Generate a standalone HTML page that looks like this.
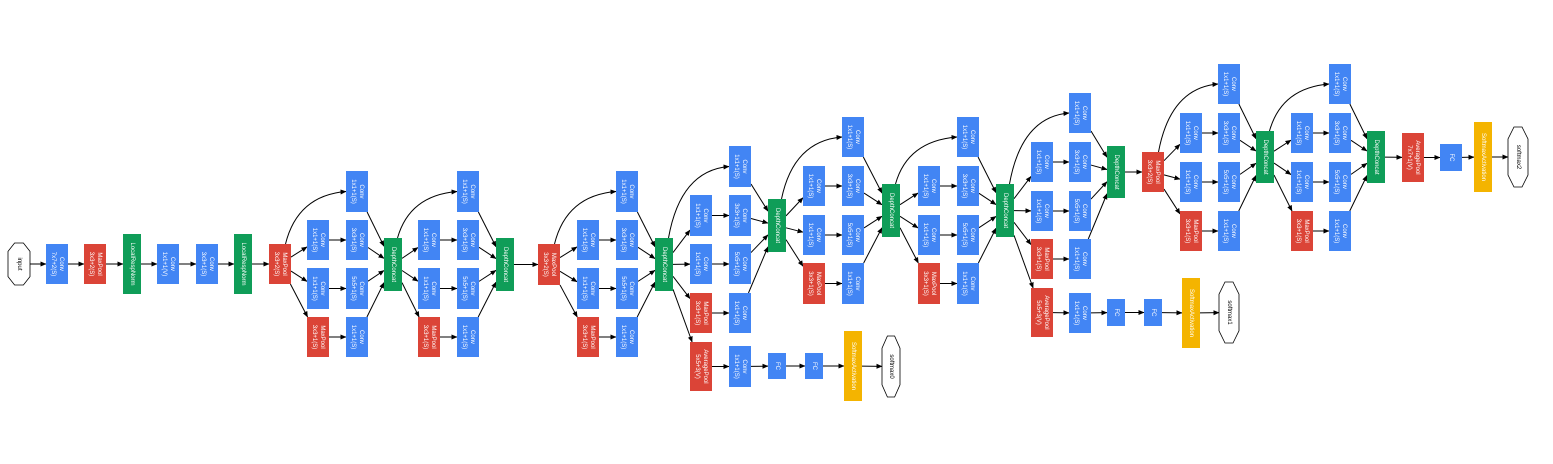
<!DOCTYPE html>
<html><head><meta charset="utf-8"><style>
html,body{margin:0;padding:0;background:#fff;}
svg{display:block;}
</style></head><body>
<svg id="g" width="1553" height="464" viewBox="0 0 1553 464" xmlns="http://www.w3.org/2000/svg">
<defs><marker id="ah" markerWidth="6" markerHeight="6" refX="5.5" refY="3" orient="auto" markerUnits="userSpaceOnUse"><path d="M0,0.5 L6,3 L0,5.5 z" fill="#000"/></marker></defs>
<g id="edges"></g><g id="nodes"></g>
</svg>
<script>
const COL={conv:'#4285f4',pool:'#db4437',cat:'#0f9d58',soft:'#f4b400'};
const nodes={};const edges=[];
function N(id,x0,x1,y0,y1,type,l1,l2){nodes[id]={id,x0,x1,y0,y1,type,l1,l2};}
function E(a,b,curve){edges.push([a,b,curve]);}
// stem
N('input',8,30,243,285,'hex','input');
N('conv1',46,68,244,284,'conv','Conv','7x7+2(S)');
N('mp1',84,106,244,284,'pool','MaxPool','3x3+2(S)');
N('lrn1',123,141,234,294,'cat','LocalRespNorm');
N('conv2',157,179,244,284,'conv','Conv','1x1+1(V)');
N('conv3',196,218,244,284,'conv','Conv','3x3+1(S)');
N('lrn2',234,252,234,294,'cat','LocalRespNorm');
N('mp2',269,291,244,284,'pool','MaxPool','3x3+2(S)');
['input','conv1','mp1','lrn1','conv2','conv3','lrn2','mp2'].reduce((a,b)=>{E(a,b);return b;});
function inc(p,src,c1,c2,rows,dc){
  const w=22;
  N(p+'r1',c2,c2+w,rows[0][0],rows[0][1],'conv','Conv','1x1+1(S)');
  N(p+'a2',c1,c1+w,rows[1][0],rows[1][1],'conv','Conv','1x1+1(S)');
  N(p+'b2',c2,c2+w,rows[1][0],rows[1][1],'conv','Conv','3x3+1(S)');
  N(p+'a3',c1,c1+w,rows[2][0],rows[2][1],'conv','Conv','1x1+1(S)');
  N(p+'b3',c2,c2+w,rows[2][0],rows[2][1],'conv','Conv','5x5+1(S)');
  N(p+'a4',c1,c1+w,rows[3][0],rows[3][1],'pool','MaxPool','3x3+1(S)');
  N(p+'b4',c2,c2+w,rows[3][0],rows[3][1],'conv','Conv','1x1+1(S)');
  N(p+'dc',dc[0],dc[0]+18,dc[1],dc[2],'cat','DepthConcat');
  E(src,p+'r1',true);E(src,p+'a2');E(src,p+'a3');E(src,p+'a4');
  E(p+'a2',p+'b2');E(p+'a3',p+'b3');E(p+'a4',p+'b4');
  ['r1','b2','b3','b4'].forEach(k=>E(p+k,p+'dc'));
  return p+'dc';
}
const R3=[[171,212],[220,260],[268,309],[317,357]];
let d=inc('i3a','mp2',307,346,R3,[384,238,291]);
d=inc('i3b',d,418,457,R3,[496,238,291]);
N('mp3',538,560,244,285,'pool','MaxPool','3x3+2(S)');E(d,'mp3');
const d4a=inc('i4a','mp3',577,616,R3,[655,238,291]);
const R4b=[[146,187],[195,236],[244,284],[293,333]];
const d4b=inc('i4b',d4a,690,729,R4b,[768,199,252]);
N('aux0pool',690,712,342,391,'pool','AveragePool','5x5+3(V)');
N('aux0conv',729,751,346,387,'conv','Conv','1x1+1(S)');
N('aux0fc1',768,786,353,379,'conv','FC');
N('aux0fc2',805,823,353,379,'conv','FC');
N('aux0sm',844,862,331,401,'soft','SoftmaxActivation');
N('softmax0',882,900,336,397,'hex','softmax0');
E(d4a,'aux0pool');['aux0pool','aux0conv','aux0fc1','aux0fc2','aux0sm','softmax0'].reduce((a,b)=>{E(a,b);return b;});
const R4c=[[117,157],[166,206],[215,255],[263,304]];
let d4c=inc('i4c',d4b,803,842,R4c,[882,184,237]);
let d4d=inc('i4d',d4c,918,957,R4c,[996,184,237]);
const R4e=[[93,133],[142,182],[191,231],[239,279]];
const d4e=inc('i4e',d4d,1031,1069,R4e,[1107,146,198]);
N('aux1pool',1031,1053,288,337,'pool','AveragePool','5x5+3(V)');
N('aux1conv',1069,1091,293,333,'conv','Conv','1x1+1(S)');
N('aux1fc1',1107,1125,299,326,'conv','FC');
N('aux1fc2',1144,1162,299,326,'conv','FC');
N('aux1sm',1182,1200,278,348,'soft','SoftmaxActivation');
N('softmax1',1219,1239,282,343,'hex','softmax1');
E(d4d,'aux1pool');['aux1pool','aux1conv','aux1fc1','aux1fc2','aux1sm','softmax1'].reduce((a,b)=>{E(a,b);return b;});
N('mp4',1142,1164,152,192,'pool','MaxPool','3x3+2(S)');E(d4e,'mp4');
const R5=[[64,104],[113,153],[162,202],[211,251]];
let d5a=inc('i5a','mp4',1180,1218,R5,[1256,131,183]);
let d5b=inc('i5b',d5a,1291,1329,R5,[1367,131,183]);
N('avg',1402,1424,133,182,'pool','AveragePool','7x7+1(V)');
N('fc',1440,1462,144,171,'conv','FC');
N('sm2',1474,1492,122,192,'soft','SoftmaxActivation');
N('softmax2',1508,1528,127,187,'hex','softmax2');
[d5b,'avg','fc','sm2','softmax2'].reduce((a,b)=>{E(a,b);return b;});

const NS='http://www.w3.org/2000/svg';
const gN=document.getElementById('nodes'),gE=document.getElementById('edges');
function clip(n,px,py,qx,qy){ // point where segment from center(p) toward q exits rect n
  const cx=px,cy=py,dx=qx-px,dy=qy-py;const hw=(n.x1-n.x0)/2,hh=(n.y1-n.y0)/2;
  let t=Infinity;if(dx)t=Math.min(t,hw/Math.abs(dx));if(dy)t=Math.min(t,hh/Math.abs(dy));
  return [cx+dx*t,cy+dy*t];
}
edges.forEach(([a,b,curve])=>{
  const A=nodes[a],B=nodes[b];
  const ac=[(A.x0+A.x1)/2,(A.y0+A.y1)/2],bc=[(B.x0+B.x1)/2,(B.y0+B.y1)/2];
  const p=document.createElementNS(NS,'path');
  let dstr;
  if(curve){
    const s=[A.x0+(A.x1-A.x0)*0.75,A.y0];const e=[B.x0,bc[1]];
    dstr=`M${s[0]},${s[1]} Q${s[0]+12},${e[1]+4} ${e[0]},${e[1]}`;
  }else{
    const s=clip(A,ac[0],ac[1],bc[0],bc[1]);const e=clip(B,bc[0],bc[1],ac[0],ac[1]);
    dstr=`M${s[0]},${s[1]} L${e[0]},${e[1]}`;
  }
  p.setAttribute('d',dstr);p.setAttribute('fill','none');p.setAttribute('stroke','#000');p.setAttribute('stroke-width','1');p.setAttribute('marker-end','url(#ah)');
  
  
  gE.appendChild(p);
});
Object.values(nodes).forEach(n=>{
  const g=document.createElementNS(NS,'g');
  
  
  const w=n.x1-n.x0,h=n.y1-n.y0,cx=(n.x0+n.x1)/2,cy=(n.y0+n.y1)/2;
  let sh;
  if(n.type==='hex'){
    sh=document.createElementNS(NS,'polygon');
    const pts=[[n.x0+w*0.3,n.y0],[n.x1-w*0.3,n.y0],[n.x1,n.y0+h*0.2],[n.x1,n.y1-h*0.2],[n.x1-w*0.3,n.y1],[n.x0+w*0.3,n.y1],[n.x0,n.y1-h*0.2],[n.x0,n.y0+h*0.2]];
    sh.setAttribute('points',pts.map(p=>p.join(',')).join(' '));
    sh.setAttribute('fill','#fff');sh.setAttribute('stroke','#000');sh.setAttribute('stroke-width','0.8');
  }else{
    sh=document.createElementNS(NS,'rect');
    sh.setAttribute('x',n.x0);sh.setAttribute('y',n.y0);sh.setAttribute('width',w);sh.setAttribute('height',h);
    sh.setAttribute('fill',COL[n.type]);
  }
  g.appendChild(sh);
  const lines=n.l2?[n.l1,n.l2]:[n.l1];
  lines.forEach((t,i)=>{
    const tx=document.createElementNS(NS,'text');
    const off=lines.length===2?(i===0?4:-4):0;
    tx.setAttribute('x',cx+off);tx.setAttribute('y',cy);
    tx.setAttribute('transform',`rotate(90 ${cx+off} ${cy})`);
    tx.setAttribute('text-anchor','middle');tx.setAttribute('dominant-baseline','central');
    tx.setAttribute('font-family','Liberation Sans, sans-serif');tx.setAttribute('font-size','6');
    tx.setAttribute('fill',n.type==='hex'?'#000':'#fff');
    tx.textContent=t;
    g.appendChild(tx);
  });
  gN.appendChild(g);
});
</script>
</body></html>
